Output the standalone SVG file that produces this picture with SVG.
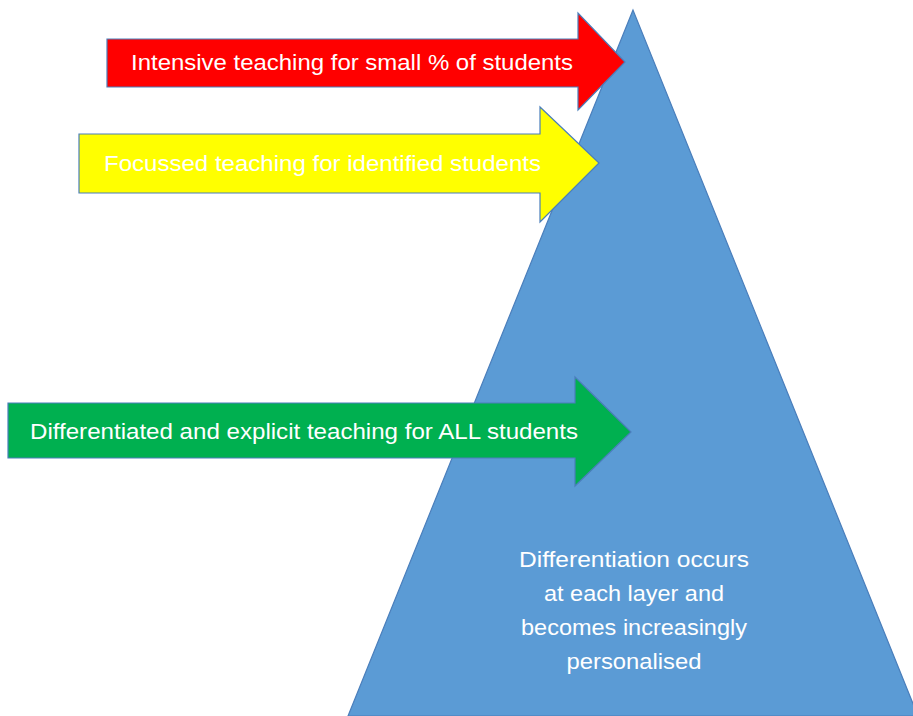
<svg xmlns="http://www.w3.org/2000/svg" width="913" height="716" viewBox="0 0 913 716">
<style>
.shape{stroke:#4A7EBB;stroke-width:1.2}
.lbl{font-family:"Liberation Sans","Open Sans",sans-serif;font-size:21.5px;fill:#FFFFFF}
.tri{font-family:"Liberation Sans","Open Sans",sans-serif;font-size:21.5px;fill:#FFFFFF;text-anchor:middle}
</style>
<rect width="913" height="716" fill="#FFFFFF"/>
<g id="pyramid">
<polygon class="shape" points="633,10 348,716 918,716" fill="#5B9BD5"/>
<text class="tri" x="634" y="567" textLength="230" lengthAdjust="spacingAndGlyphs">Differentiation occurs</text>
<text class="tri" x="634" y="601" textLength="180" lengthAdjust="spacingAndGlyphs">at each layer and</text>
<text class="tri" x="634" y="635" textLength="226" lengthAdjust="spacingAndGlyphs">becomes increasingly</text>
<text class="tri" x="634" y="669" textLength="135" lengthAdjust="spacingAndGlyphs">personalised</text>
</g>
<g id="arrow-intensive">
<polygon class="shape" points="107,39 578,39 578,13 625,62 578,110 578,87 107,87" fill="#FF0000"/>
<text class="lbl" x="131" y="70" textLength="442" lengthAdjust="spacingAndGlyphs">Intensive teaching for small % of students</text>
</g>
<g id="arrow-focussed">
<polygon class="shape" points="79,134 540,134 540,107 599,163 540,222 540,193 79,193" fill="#FFFF00"/>
<text class="lbl" x="104" y="171" textLength="437" lengthAdjust="spacingAndGlyphs">Focussed teaching for identified students</text>
</g>
<g id="arrow-all">
<polygon class="shape" points="8,403 575,403 575,377 631,432 575,486 575,458 8,458" fill="#00B050"/>
<text class="lbl" x="30" y="439" textLength="548" lengthAdjust="spacingAndGlyphs">Differentiated and explicit teaching for ALL students</text>
</g>
<g id="connectors"></g>
</svg>
